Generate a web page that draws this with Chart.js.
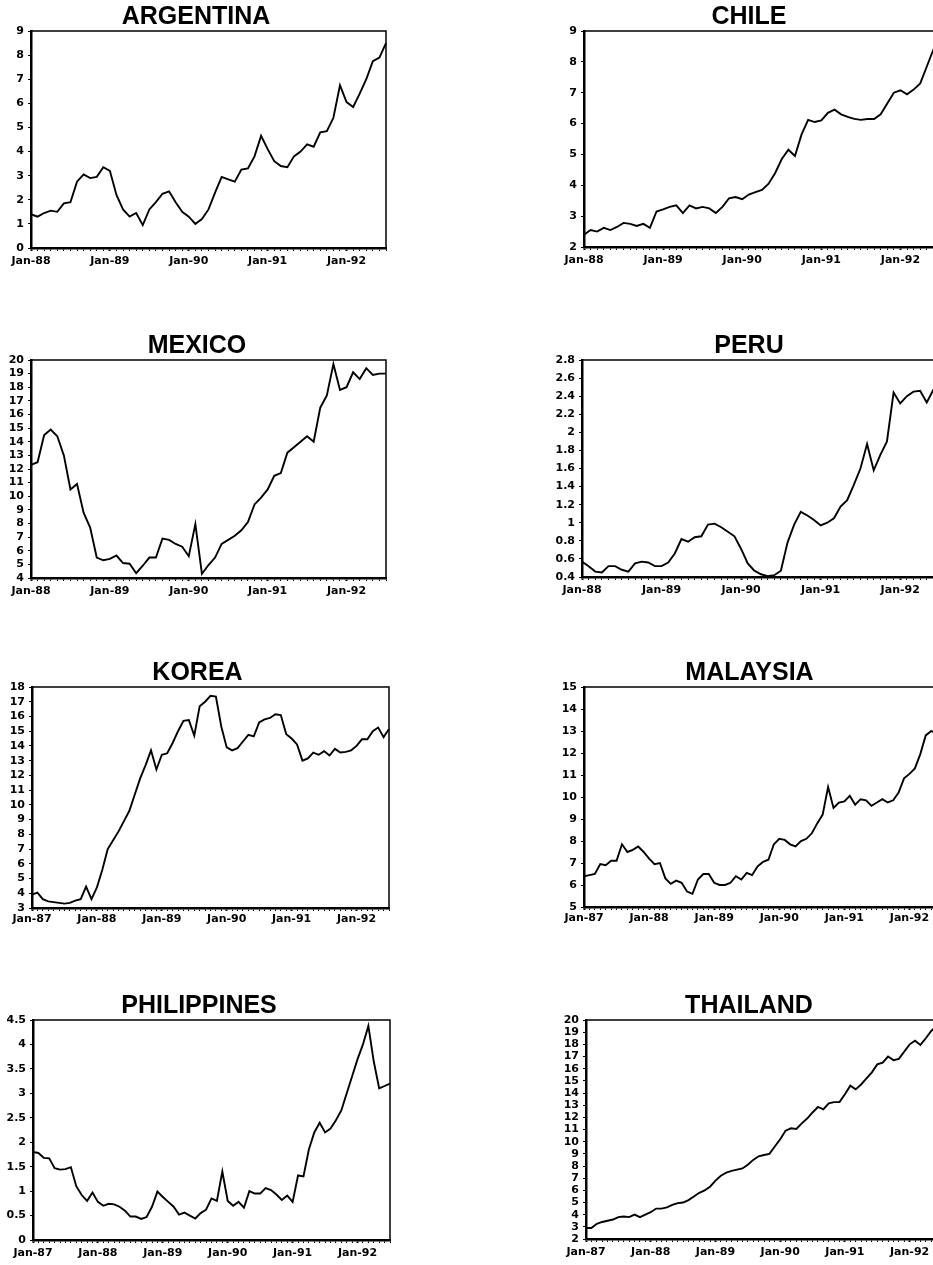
<!DOCTYPE html>
<html>
<head>
<meta charset="utf-8">
<script src="https://cdn.jsdelivr.net/npm/chart.js@4.4.0/dist/chart.umd.min.js"></script>
<style>
    html, body { margin: 0; padding: 0; background: #fff; overflow: hidden; }
    #page { position: relative; width: 933px; height: 1265px; overflow: hidden; background: #fff; }
    #page canvas { position: absolute; }
</style>
</head>
<body>
<div id="page">
    <canvas id="chArgentina"></canvas>
    <canvas id="chChile"></canvas>
    <canvas id="chMexico"></canvas>
    <canvas id="chPeru"></canvas>
    <canvas id="chKorea"></canvas>
    <canvas id="chMalaysia"></canvas>
    <canvas id="chPhilippines"></canvas>
    <canvas id="chThailand"></canvas>
</div>
<script>
// month names and the two date ranges used by the panels
var months = ['Jan', 'Feb', 'Mar', 'Apr', 'May', 'Jun', 'Jul', 'Aug', 'Sep', 'Oct', 'Nov', 'Dec'];
var years88 = ['88', '89', '90', '91', '92'];
var years87 = ['87', '88', '89', '90', '91', '92'];
var lastMonth = 'Jul-92';

// series, monthly
var argentina = [1.4, 1.3, 1.45, 1.55, 1.5, 1.85, 1.9, 2.75, 3.05, 2.9, 2.95, 3.35,
    3.2, 2.2, 1.6, 1.3, 1.45, 0.95, 1.6, 1.9, 2.25, 2.35, 1.9, 1.5,
    1.3, 1.0, 1.2, 1.6, 2.3, 2.95, 2.85, 2.75, 3.25, 3.3, 3.8, 4.65,
    4.1, 3.6, 3.4, 3.35, 3.8, 4.0, 4.3, 4.2, 4.8, 4.85, 5.4, 6.75,
    6.05, 5.85, 6.4, 7.0, 7.75, 7.9, 8.5];
var chile = [2.4, 2.55, 2.5, 2.62, 2.55, 2.65, 2.78, 2.75, 2.68, 2.75, 2.62, 3.15,
    3.22, 3.3, 3.35, 3.1, 3.35, 3.25, 3.3, 3.25, 3.1, 3.3, 3.58, 3.62,
    3.55, 3.7, 3.78, 3.85, 4.05, 4.4, 4.85, 5.15, 4.95, 5.65, 6.12, 6.05,
    6.1, 6.35, 6.45, 6.3, 6.22, 6.15, 6.12, 6.15, 6.15, 6.3, 6.65, 7.0,
    7.08, 6.95, 7.1, 7.3, 7.85, 8.4, 8.6];
var mexico = [12.3, 12.5, 14.5, 14.9, 14.4, 13.0, 10.5, 10.9, 8.8, 7.7, 5.5, 5.3,
    5.4, 5.65, 5.1, 5.05, 4.35, 4.9, 5.5, 5.5, 6.9, 6.8, 6.5, 6.3,
    5.6, 7.95, 4.3, 4.95, 5.5, 6.5, 6.8, 7.1, 7.5, 8.1, 9.4, 9.9,
    10.5, 11.5, 11.7, 13.2, 13.6, 14.0, 14.4, 14.0, 16.5, 17.4, 19.7, 17.8,
    18.0, 19.1, 18.6, 19.4, 18.9, 19.0, 19.0];
var peru = [0.57, 0.52, 0.46, 0.45, 0.52, 0.52, 0.48, 0.46, 0.55, 0.57, 0.56, 0.52,
    0.52, 0.56, 0.66, 0.82, 0.79, 0.84, 0.85, 0.98, 0.99, 0.95, 0.9, 0.85,
    0.71, 0.55, 0.47, 0.43, 0.41, 0.42, 0.47, 0.78, 0.98, 1.12, 1.08, 1.03,
    0.97, 1.0, 1.05, 1.18, 1.25, 1.42, 1.6, 1.87, 1.58, 1.75, 1.9, 2.44,
    2.32, 2.4, 2.45, 2.46, 2.33, 2.47, 2.5];
var korea = [3.9, 4.05, 3.6, 3.45, 3.4, 3.35, 3.3, 3.35, 3.5, 3.6, 4.45, 3.6,
    4.4, 5.6, 7.0, 7.6, 8.2, 8.9, 9.6, 10.7, 11.8, 12.7, 13.7, 12.4,
    13.4, 13.5, 14.2, 15.0, 15.7, 15.75, 14.7, 16.7, 17.0, 17.4, 17.35, 15.3,
    13.9, 13.7, 13.85, 14.3, 14.75, 14.65, 15.6, 15.8, 15.9, 16.15, 16.1, 14.8,
    14.5, 14.1, 13.0, 13.15, 13.55, 13.4, 13.65, 13.35, 13.8, 13.55, 13.6, 13.7,
    14.0, 14.45, 14.45, 15.0, 15.25, 14.6, 15.15];
var malaysia = [6.4, 6.45, 6.5, 6.95, 6.9, 7.1, 7.1, 7.85, 7.5, 7.6, 7.75, 7.5,
    7.2, 6.95, 7.0, 6.3, 6.05, 6.2, 6.1, 5.7, 5.6, 6.25, 6.5, 6.5,
    6.1, 6.0, 6.0, 6.1, 6.4, 6.25, 6.55, 6.45, 6.85, 7.05, 7.15, 7.85,
    8.1, 8.05, 7.85, 7.75, 8.0, 8.1, 8.35, 8.8, 9.2, 10.45, 9.5, 9.75,
    9.8, 10.05, 9.65, 9.9, 9.85, 9.6, 9.75, 9.9, 9.75, 9.85, 10.2, 10.85,
    11.05, 11.3, 11.95, 12.8, 13.0, 12.9, 13.0];
var philippines = [1.8, 1.78, 1.68, 1.67, 1.47, 1.44, 1.45, 1.49, 1.1, 0.92, 0.8, 0.97,
    0.78, 0.7, 0.74, 0.73, 0.68, 0.6, 0.48, 0.48, 0.43, 0.47, 0.68, 0.99,
    0.88, 0.78, 0.68, 0.52, 0.56, 0.5, 0.44, 0.55, 0.62, 0.85, 0.8, 1.4,
    0.8, 0.7, 0.78, 0.66, 1.0, 0.95, 0.95, 1.06, 1.02, 0.93, 0.82, 0.91,
    0.78, 1.32, 1.3, 1.85, 2.2, 2.4, 2.2, 2.28, 2.45, 2.65, 3.0, 3.35,
    3.7, 4.0, 4.38, 3.65, 3.1, 3.15, 3.2];
var thailand = [2.9, 2.9, 3.25, 3.4, 3.5, 3.6, 3.8, 3.85, 3.8, 4.0, 3.8, 4.0,
    4.2, 4.5, 4.5, 4.6, 4.8, 4.95, 5.0, 5.2, 5.5, 5.8, 6.0, 6.3,
    6.8, 7.2, 7.45, 7.6, 7.7, 7.8, 8.1, 8.5, 8.8, 8.9, 9.0, 9.6,
    10.2, 10.9, 11.1, 11.05, 11.5, 11.9, 12.4, 12.85, 12.65, 13.15, 13.25, 13.25,
    13.9, 14.6, 14.3, 14.7, 15.2, 15.7, 16.35, 16.5, 17.0, 16.7, 16.8, 17.4,
    18.0, 18.3, 17.95, 18.5, 19.1, 19.5, 19.8];

// y axis ranges [min, max, step]
var yArgentina = [0, 9, 1];
var yChile = [2, 9, 1];
var yMexico = [4, 20, 1];
var yPeru = [0.4, 2.8, 0.2];
var yKorea = [3, 18, 1];
var yMalaysia = [5, 15, 1];
var yPhilippines = [0, 4.5, 0.5];
var yThailand = [2, 20, 1];

function monthLabels(years) {
    var out = [];
    for (var i = 0; i < years.length; i++) {
        for (var m = 0; m < 12; m++) {
            var l = months[m] + '-' + years[i];
            out.push(l);
            if (l === lastMonth) return out;
        }
    }
    return out;
}
var labels88 = monthLabels(years88);
var labels87 = monthLabels(years87);

// draws the box round the plot area
var framePlugin = {
    id: 'frame',
    afterDraw: function (chart) {
        var a = chart.chartArea;
        var ctx = chart.ctx;
        ctx.save();
        ctx.strokeStyle = '#000';
        ctx.lineWidth = 1.5;
        ctx.strokeRect(a.left, a.top, a.right - a.left, a.bottom - a.top);
        ctx.restore();
    }
};

var tickFont = { family: "'DejaVu Sans', sans-serif", weight: 'bold', size: 11 };

// p: left, top, width, height of the canvas, yW: y axis width, padR: right padding, xPad: gap above x labels
function makeChart(id, title, labels, data, yRange, p) {
    var el = document.getElementById(id);
    el.width = p.w;
    el.height = p.h;
    el.style.left = p.left + 'px';
    el.style.top = p.top + 'px';
    return new Chart(el.getContext('2d'), {
        type: 'line',
        data: {
            labels: labels,
            datasets: [{
                data: data,
                borderColor: '#000',
                backgroundColor: 'transparent',
                borderWidth: 1.9,
                pointRadius: 0,
                tension: 0
            }]
        },
        options: {
            responsive: false,
            animation: false,
            layout: { padding: { left: 0, right: p.padR, top: 0, bottom: 0 } },
            plugins: {
                legend: { display: false },
                tooltip: { enabled: false },
                title: {
                    display: true,
                    text: title,
                    color: '#000',
                    padding: 0,
                    font: { family: "'Liberation Sans', Arial, sans-serif", weight: 'bold', size: 25, lineHeight: 1.12 }
                }
            },
            scales: {
                x: {
                    type: 'category',
                    offset: false,
                    border: { display: true, color: '#000', width: 2.5 },
                    grid: {
                        drawOnChartArea: false,
                        drawTicks: true,
                        tickLength: 3,
                        color: '#000',
                        tickWidth: function (c) {
                            var l = labels[c.index] || '';
                            return l.indexOf('Jan') === 0 ? 2 : 1;
                        }
                    },
                    ticks: {
                        autoSkip: false,
                        maxRotation: 0,
                        minRotation: 0,
                        padding: p.xPad,
                        color: '#000',
                        font: tickFont,
                        callback: function (value) {
                            var l = this.getLabelForValue(value);
                            return l.indexOf('Jan') === 0 ? l : '';
                        }
                    },
                    afterFit: function (s) { s.height = 20 + p.xPad; }
                },
                y: {
                    min: yRange[0],
                    max: yRange[1],
                    border: { display: true, color: '#000', width: 2.5 },
                    grid: { drawOnChartArea: false, drawTicks: true, tickLength: 3, color: '#000' },
                    ticks: {
                        stepSize: yRange[2],
                        autoSkip: false,
                        padding: 4,
                        color: '#000',
                        font: tickFont,
                        callback: function (value) {
                            return String(Math.round(value * 10) / 10);
                        }
                    },
                    afterFit: function (s) { s.width = p.yW; }
                }
            }
        },
        plugins: [framePlugin]
    });
}

makeChart('chArgentina', 'ARGENTINA', labels88, argentina, yArgentina, { left: 4, top: 3, w: 386, h: 269, yW: 27, padR: 2, xPad: 4 });
makeChart('chChile', 'CHILE', labels88, chile, yChile, { left: 556, top: 3, w: 388, h: 268, yW: 28, padR: 2, xPad: 4 });
makeChart('chMexico', 'MEXICO', labels88, mexico, yMexico, { left: 6, top: 332, w: 384, h: 270, yW: 25, padR: 2, xPad: 4 });
makeChart('chPeru', 'PERU', labels88, peru, yPeru, { left: 556, top: 332, w: 388, h: 269, yW: 26, padR: 2, xPad: 4 });
makeChart('chKorea', 'KOREA', labels87, korea, yKorea, { left: 6, top: 659, w: 385, h: 271, yW: 26, padR: 2, xPad: 2 });
makeChart('chMalaysia', 'MALAYSIA', labels87, malaysia, yMalaysia, { left: 557, top: 659, w: 387, h: 270, yW: 27, padR: 2, xPad: 2 });
makeChart('chPhilippines', 'PHILIPPINES', labels87, philippines, yPhilippines, { left: 6, top: 992, w: 388, h: 272, yW: 27, padR: 2, xPad: 4 });
makeChart('chThailand', 'THAILAND', labels87, thailand, yThailand, { left: 554, top: 992, w: 392, h: 271, yW: 32, padR: 2, xPad: 4 });
</script>
</body>
</html>
